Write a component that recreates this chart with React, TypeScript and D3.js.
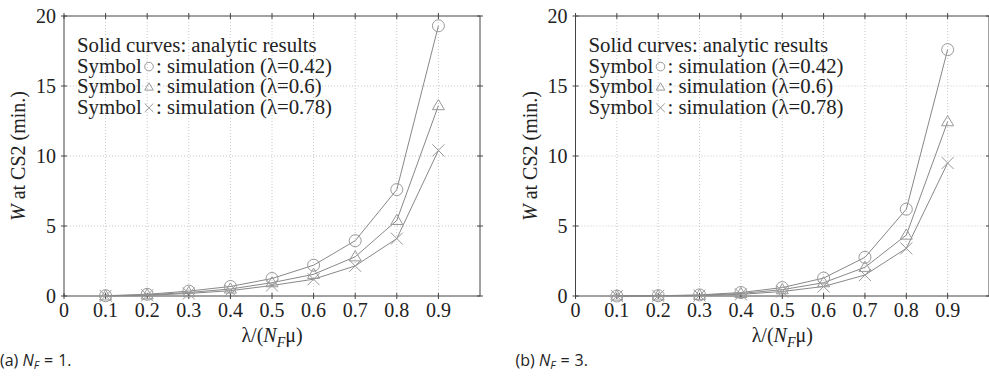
import React from 'react'
import { scaleLinear, line, range } from 'd3'

// x positions of the samples
const loads = [0.1, 0.2, 0.3, 0.4, 0.5, 0.6, 0.7, 0.8, 0.9]

// panel (a) N_F = 1
const aCircle = [0.02, 0.12, 0.35, 0.68, 1.25, 2.2, 3.95, 7.6, 19.3]
const aTriangle = [0.01, 0.08, 0.25, 0.5, 0.95, 1.55, 2.8, 5.4, 13.6]
const aCross = [0.01, 0.05, 0.18, 0.38, 0.75, 1.2, 2.15, 4.1, 10.4]

// panel (b) N_F = 3
const bCircle = [0, 0.02, 0.08, 0.25, 0.6, 1.28, 2.76, 6.2, 17.6]
const bTriangle = [0, 0.01, 0.05, 0.18, 0.45, 0.95, 2.05, 4.35, 12.45]
const bCross = [0, 0.01, 0.03, 0.12, 0.32, 0.68, 1.5, 3.4, 9.5]

const xTicks = [0, 0.1, 0.2, 0.3, 0.4, 0.5, 0.6, 0.7, 0.8, 0.9]
const xGrid = [0.1, 0.2, 0.3, 0.4, 0.5, 0.6, 0.7, 0.8, 0.9]
const yTicks = [0, 5, 10, 15, 20]
const legendLines = [
  'Solid curves: analytic results',
  ': simulation (λ=0.42)',
  ': simulation (λ=0.6)',
  ': simulation (λ=0.78)',
]

const width = 989
const height = 382
const serif = '"Liberation Serif", "Times New Roman", serif'
const axisColor = '#444'
const lineColor = '#888'
const markColor = '#999'

type Kind = 'circle' | 'triangle' | 'cross'

function Marker({ kind, x, y, s }: { kind: Kind; x: number; y: number; s: number }) {
  if (kind === 'circle') {
    return <circle cx={x} cy={y} r={s} fill="none" stroke={markColor} strokeWidth={1} />
  }
  if (kind === 'triangle') {
    const h = s * 1.7
    return (
      <path
        d={`M${x},${y - h * 0.6}L${x + s},${y + h * 0.4}L${x - s},${y + h * 0.4}Z`}
        fill="none"
        stroke={markColor}
        strokeWidth={1}
      />
    )
  }
  return (
    <path
      d={`M${x - s},${y - s}L${x + s},${y + s}M${x - s},${y + s}L${x + s},${y - s}`}
      fill="none"
      stroke={markColor}
      strokeWidth={1}
    />
  )
}

function Panel({ left, right, series, caption, captionX }: {
  left: number; right: number; series: { kind: Kind; values: number[] }[]; caption: string; captionX: number
}) {
  const top = 16
  const bottom = 296
  const x = scaleLinear().domain([0, 1]).range([left, right])
  const y = scaleLinear().domain([0, 20]).range([bottom, top])
  const path = line<number>().x((d, i) => x(loads[i])).y(d => y(d))
  const cx = (left + right) / 2
  const cy = (top + bottom) / 2
  const kinds: Kind[] = ['circle', 'triangle', 'cross']
  const [capHead, capTail] = caption.split('N_F')

  return (
    <g>
      {/* grid */}
      {xGrid.map(t => (
        <line key={'gx' + t} x1={x(t)} x2={x(t)} y1={top} y2={bottom} stroke="#c8c8c8" strokeDasharray="1,2" />
      ))}
      {yTicks.slice(1, -1).map(t => (
        <line key={'gy' + t} x1={left} x2={right} y1={y(t)} y2={y(t)} stroke="#c8c8c8" strokeDasharray="1,2" />
      ))}
      {/* frame */}
      <rect x={left} y={top} width={right - left} height={bottom - top} fill="none" stroke={axisColor} strokeWidth={1} />
      {range(0, 10).map(i => {
        const t = i / 10
        return (
          <g key={'tx' + i}>
            <line x1={x(t)} x2={x(t)} y1={bottom - 3} y2={bottom + 3} stroke={axisColor} />
            <line x1={x(t)} x2={x(t)} y1={top - 3} y2={top + 3} stroke={axisColor} />
          </g>
        )
      })}
      {yTicks.map(t => (
        <g key={'ty' + t}>
          <line x1={left - 3} x2={left + 3} y1={y(t)} y2={y(t)} stroke={axisColor} />
          <line x1={right - 3} x2={right + 3} y1={y(t)} y2={y(t)} stroke={axisColor} />
        </g>
      ))}
      {/* tick labels */}
      {xTicks.map(t => (
        <text key={'lx' + t} x={x(t)} y={317} textAnchor="middle" fontFamily={serif} fontSize={20} fill="#222">
          {t === 0 ? '0' : t.toFixed(1)}
        </text>
      ))}
      {yTicks.map(t => (
        <text key={'ly' + t} x={left - 8} y={y(t)} dy="0.35em" textAnchor="end" fontFamily={serif} fontSize={20} fill="#222">
          {t}
        </text>
      ))}
      {/* axis titles */}
      <text x={cx} y={342} textAnchor="middle" fontFamily={serif} fontSize={20} fill="#222">
        λ/(<tspan fontStyle="italic">N</tspan>
        <tspan fontStyle="italic" fontSize={14} dy={5}>F</tspan>
        <tspan dy={-5}>μ)</tspan>
      </text>
      <text
        transform={`translate(${left - 39},${cy}) rotate(-90)`}
        textAnchor="middle"
        fontFamily={serif}
        fontSize={20}
        fill="#222"
      >
        <tspan fontStyle="italic">W</tspan> at CS2 (min.)
      </text>
      {/* curves */}
      {series.map((s, k) => (
        <path key={'p' + k} d={path(s.values) || ''} fill="none" stroke={lineColor} strokeWidth={1} />
      ))}
      {series.map((s, k) =>
        s.values.map((v, i) => <Marker key={'m' + k + i} kind={s.kind} x={x(loads[i])} y={y(v)} s={6} />)
      )}
      {/* legend */}
      {legendLines.map((txt, i) => {
        const ly = 52 + i * 20.6
        return i === 0 ? (
          <text key={'lg' + i} x={left + 13} y={ly} fontFamily={serif} fontSize={20.8} fill="#222">{txt}</text>
        ) : (
          <g key={'lg' + i}>
            <text x={left + 13} y={ly} fontFamily={serif} fontSize={20.8} fill="#222">Symbol</text>
            <Marker kind={kinds[i - 1]} x={left + 85} y={ly - 6} s={4.3} />
            <text x={left + 92} y={ly} fontFamily={serif} fontSize={20.8} fill="#222">{txt}</text>
          </g>
        )
      })}
      {/* caption */}
      <text x={captionX} y={366} fontFamily='"Open Sans", sans-serif' fontSize={16} fill="#222">
        {capHead}
        <tspan fontStyle="italic">N</tspan>
        <tspan fontStyle="italic" fontSize={11} dy={3}>F</tspan>
        <tspan dy={-3} dx={5}>=</tspan>
        <tspan dx={5}>{capTail.replace('=', '').trim()}</tspan>
      </text>
    </g>
  )
}

export default function App() {
  return (
    <svg
      width={width}
      height={height}
      style={{ position: 'absolute', left: 0, top: 0, display: 'block', background: '#fff' }}
    >
      <Panel
        left={64}
        right={480}
        caption="(a) N_F = 1."
        captionX={0}
        series={[
          { kind: 'circle', values: aCircle },
          { kind: 'triangle', values: aTriangle },
          { kind: 'cross', values: aCross },
        ]}
      />
      <Panel
        left={575.5}
        right={989}
        caption="(b) N_F = 3."
        captionX={515.5}
        series={[
          { kind: 'circle', values: bCircle },
          { kind: 'triangle', values: bTriangle },
          { kind: 'cross', values: bCross },
        ]}
      />
    </svg>
  )
}
